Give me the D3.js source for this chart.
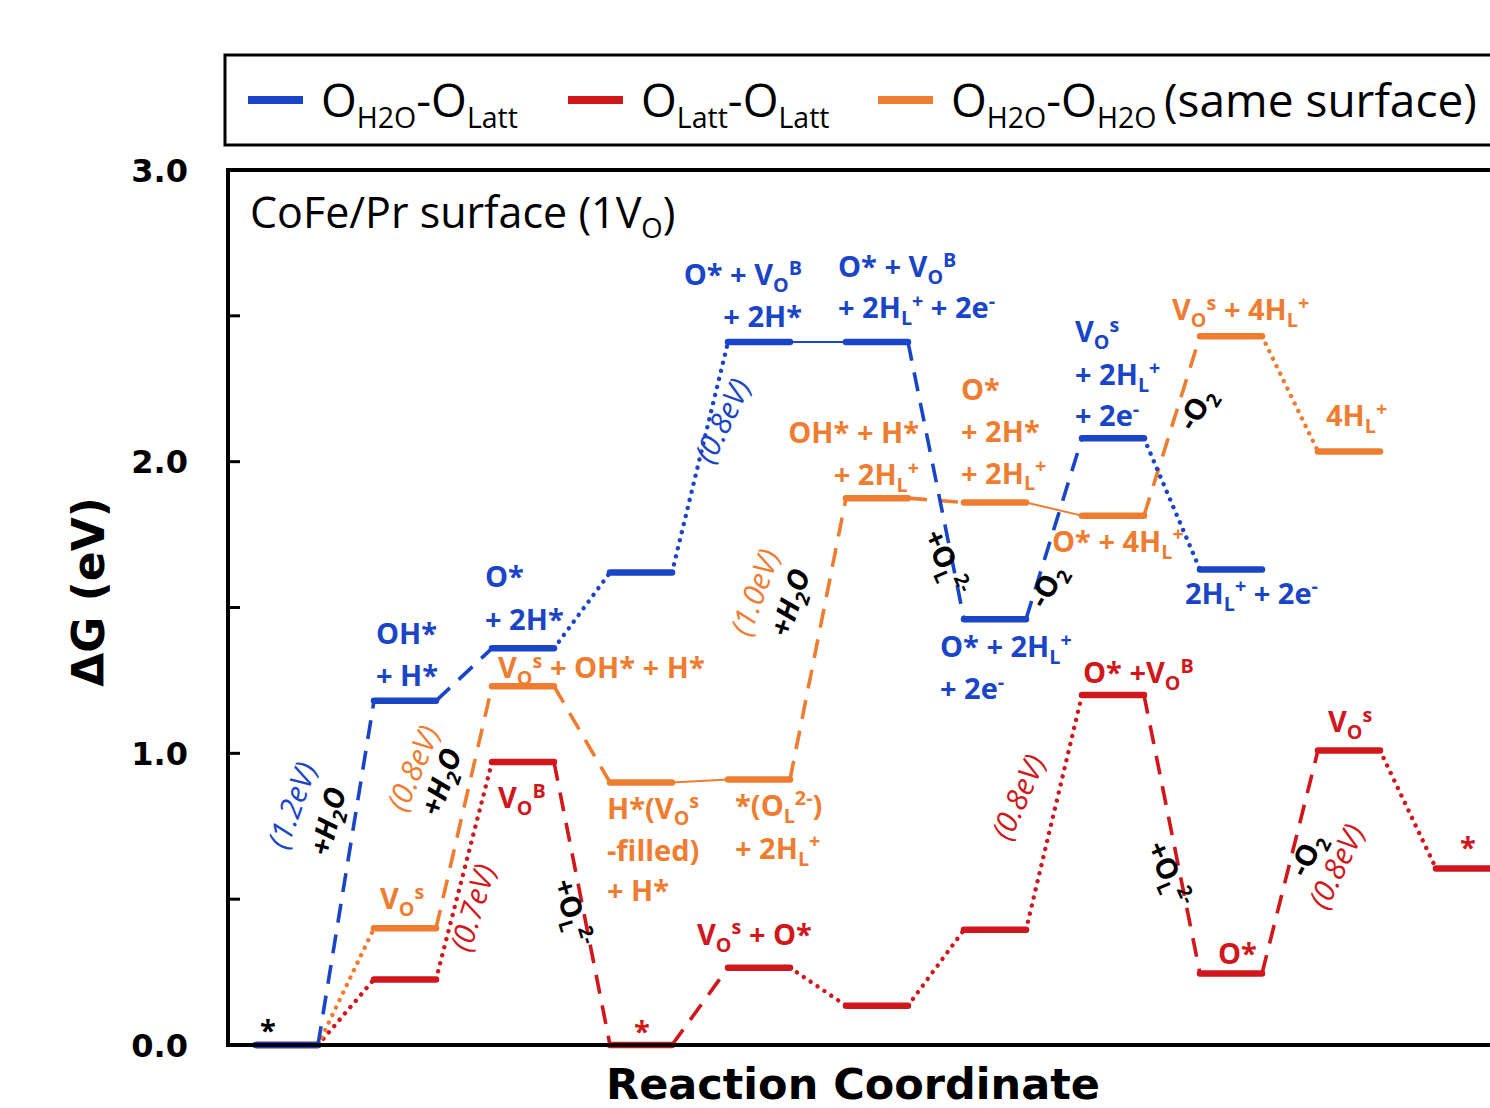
<!DOCTYPE html>
<html>
<head>
<meta charset="utf-8">
<script src="https://cdn.jsdelivr.net/npm/d3@7"></script>
<style>
  body { margin: 0; background: #fff; }
  svg { display: block; }
  text { white-space: pre; }
</style>
</head>
<body>
<div id="chart"></div>
<script>
// reaction steps (columns) and free energies in eV
const steps = [0, 1, 2, 3, 4, 5, 6, 7, 8, 9, 10];
const blueLevels = [0, 1.18, 1.36, 1.62, 2.41, 2.41, 1.46, 2.08, 1.63];
const orangeLevels = [0, 0.40, 1.23, 0.90, 0.91, 1.875, 1.86, 1.815, 2.43, 2.035];
const redLevels = [0, 0.225, 0.97, 0, 0.265, 0.135, 0.395, 1.20, 0.245, 1.01, 0.605];

// connector style between consecutive levels
const blueLinks = ['dash', 'dash', 'dot', 'dot', 'solid', 'dash', 'dash', 'dot'];
const orangeLinks = ['dot', 'dash', 'dash', 'solid', 'dash', 'dash', 'solid', 'dash', 'dot'];
const redLinks = ['dot', 'dot', 'dash', 'dash', 'dot', 'dot', 'dot', 'dash', 'dash', 'dot'];

const yTicks = [0, 0.5, 1, 1.5, 2, 2.5, 3];
const yTickLabels = ['0.0', '', '1.0', '', '2.0', '', '3.0'];

const legendNames = ['O_{H2O}-O_{Latt}', 'O_{Latt}-O_{Latt}', 'O_{H2O}-O_{H2O}\u2009(same surface)'];

const colors = { blue: '#1a45c6', red: '#d0171c', orange: '#ee7d31' };

const W = 1490, H = 1108;
const labelFont = "'Open Sans', 'Noto Sans', sans-serif";
const axisFont = "'DejaVu Sans', Verdana, sans-serif";

const svg = d3.select('#chart').append('svg')
  .attr('width', W)
  .attr('height', H);

const x = d3.scaleLinear().domain([0, 10]).range([287, 1467]);
const y = d3.scaleLinear().domain([0, 3]).range([1045, 170]);
const halfW = 31;

// simple markup: _{sub} ^{sup}
function rich(sel, str, size, k = 0.64) {
  const parts = str.split(/(_\{[^}]*\}|\^\{[^}]*\})/).filter(p => p.length);
  let shift = 0;
  parts.forEach(p => {
    let target = 0, txt = p, fs = size;
    if (p.startsWith('_{')) { target = 0.24 * size; txt = p.slice(2, -1); fs = size * k; }
    else if (p.startsWith('^{')) { target = -0.36 * size; txt = p.slice(2, -1); fs = size * k; }
    sel.append('tspan')
      .attr('dy', target - shift)
      .attr('font-size', fs)
      .text(txt);
    shift = target;
  });
}

const series = [
  { key: 'red', levels: redLevels, links: redLinks },
  { key: 'orange', levels: orangeLevels, links: orangeLinks },
  { key: 'blue', levels: blueLevels, links: blueLinks }
];
const byKey = {};
series.forEach(s => byKey[s.key] = s);

const linkStyle = {
  dash: { w: 3.6, dash: '19,12', cap: 'butt' },
  dot: { w: 4.4, dash: '0.1,8.2', cap: 'round' },
  solid: { w: 2, dash: null, cap: 'butt' }
};

// ---- levels and connectors
series.forEach(s => {
  const g = svg.append('g').attr('class', 'series-' + s.key);
  const linkData = s.links.map((style, i) => ({ style, i }));

  g.selectAll('line.link')
    .data(linkData)
    .enter()
    .append('line')
    .attr('class', 'link')
    .attr('x1', d => x(steps[d.i]) + halfW)
    .attr('y1', d => y(s.levels[d.i]))
    .attr('x2', d => x(steps[d.i + 1]) - halfW)
    .attr('y2', d => y(s.levels[d.i + 1]))
    .attr('stroke', colors[s.key])
    .attr('stroke-width', d => linkStyle[d.style].w)
    .attr('stroke-dasharray', d => linkStyle[d.style].dash)
    .attr('stroke-linecap', d => linkStyle[d.style].cap);

  g.selectAll('line.level')
    .data(s.levels)
    .enter()
    .append('line')
    .attr('class', 'level')
    .attr('x1', (d, i) => x(steps[i]) - halfW)
    .attr('x2', (d, i) => x(steps[i]) + halfW)
    .attr('y1', d => y(d))
    .attr('y2', d => y(d))
    .attr('stroke', colors[s.key])
    .attr('stroke-width', 6.5)
    .attr('stroke-linecap', 'round');
});

// ---- frame and y axis
svg.append('rect')
  .attr('x', 228).attr('y', y(3))
  .attr('width', 1400).attr('height', y(0) - y(3))
  .attr('fill', 'none')
  .attr('stroke', '#000')
  .attr('stroke-width', 4);

const yAxis = svg.append('g');
yAxis.selectAll('line')
  .data(yTicks.filter(t => t > 0 && t < 3))
  .enter()
  .append('line')
  .attr('x1', 228).attr('x2', 240)
  .attr('y1', d => y(d)).attr('y2', d => y(d))
  .attr('stroke', '#000').attr('stroke-width', 3);

yAxis.selectAll('text')
  .data(yTicks)
  .enter()
  .append('text')
  .attr('x', 188)
  .attr('y', d => y(d))
  .attr('dy', '0.36em')
  .attr('text-anchor', 'end')
  .attr('font-family', axisFont)
  .attr('font-weight', 'bold')
  .attr('font-size', 32)
  .text((d, i) => yTickLabels[i]);

svg.append('text')
  .attr('transform', 'translate(104,592) rotate(-90)')
  .attr('text-anchor', 'middle')
  .attr('font-family', axisFont)
  .attr('font-weight', 'bold')
  .attr('font-size', 44)
  .text('ΔG (eV)');

svg.append('text')
  .attr('x', 853).attr('y', 1099)
  .attr('text-anchor', 'middle')
  .attr('font-family', axisFont)
  .attr('font-weight', 'bold')
  .attr('font-size', 43)
  .text('Reaction Coordinate');

// ---- panel title
rich(svg.append('text')
  .attr('x', 250).attr('y', 228)
  .attr('font-family', labelFont)
  .attr('font-size', 43), 'CoFe/Pr surface (1V_{O})', 43);

// ---- legend
svg.append('rect')
  .attr('x', 225).attr('y', 55)
  .attr('width', 1400).attr('height', 90)
  .attr('fill', 'none')
  .attr('stroke', '#000')
  .attr('stroke-width', 3);

const legendKeys = ['blue', 'red', 'orange'];
const legendX = [248, 568, 878];
legendKeys.forEach((k, i) => {
  svg.append('line')
    .attr('x1', legendX[i]).attr('x2', legendX[i] + 55)
    .attr('y1', 100).attr('y2', 100)
    .attr('stroke', colors[k]).attr('stroke-width', 8);
  rich(svg.append('text')
    .attr('x', legendX[i] + 73).attr('y', 117)
    .attr('font-family', labelFont)
    .attr('font-size', 46), legendNames[i], 46, 0.62);
});

// ---- state labels, anchored to the left end of their level
const LS = 29;
const levelLabels = [
  { s: 'blue', i: 0, lines: ['*'], dx: 4, dy: [-4], color: '#000' },
  { s: 'blue', i: 1, lines: ['OH*', '+ H*'], dx: 2, dy: [-57, -15] },
  { s: 'blue', i: 2, lines: ['O*', '+ 2H*'], dx: -7, dy: [-61, -18] },
  { s: 'blue', i: 4, lines: ['O* + V_{O}^{B}', '+ 2H*'], dx: 74, dy: [-57, -15], anchor: 'end' },
  { s: 'blue', i: 5, lines: ['O* + V_{O}^{B}', '+ 2H_{L}^{+} + 2e^{-}'], dx: -8, dy: [-65, -24] },
  { s: 'blue', i: 6, lines: ['O* + 2H_{L}^{+}', '+ 2e^{-}'], dx: -24, dy: [38, 80] },
  { s: 'blue', i: 7, lines: ['V_{O}^{s}', '+ 2H_{L}^{+}', '+ 2e^{-}'], dx: -7, dy: [-96, -53, -12] },
  { s: 'blue', i: 8, lines: ['2H_{L}^{+} + 2e^{-}'], dx: -15, dy: [34] },

  { s: 'orange', i: 1, lines: ['V_{O}^{s}'], dx: 6, dy: [-19] },
  { s: 'orange', i: 2, lines: ['V_{O}^{s} + OH* + H*'], dx: 6, dy: [-8] },
  { s: 'orange', i: 3, lines: ['H*(V_{O}^{s}', '-filled)', '+ H*'], dx: -3, dy: [36, 78, 118] },
  { s: 'orange', i: 4, lines: ['*(O_{L}^{2-})', '+ 2H_{L}^{+}'], dx: 7, dy: [36, 79] },
  { s: 'orange', i: 5, lines: ['OH* + H*', '+ 2H_{L}^{+}'], dx: 73, dy: [-55, -13], anchor: 'end' },
  { s: 'orange', i: 6, lines: ['O*', '+ 2H*', '+ 2H_{L}^{+}'], dx: -3, dy: [-103, -61, -19] },
  { s: 'orange', i: 7, lines: ['O* + 4H_{L}^{+}'], dx: -30, dy: [36] },
  { s: 'orange', i: 8, lines: ['V_{O}^{s} + 4H_{L}^{+}'], dx: -28, dy: [-16] },
  { s: 'orange', i: 9, lines: ['4H_{L}^{+}'], dx: 8, dy: [-25] },

  { s: 'red', i: 2, lines: ['V_{O}^{B}'], dx: 6, dy: [46] },
  { s: 'red', i: 3, lines: ['*'], dx: 24, dy: [-3] },
  { s: 'red', i: 4, lines: ['V_{O}^{s} + O*'], dx: -31, dy: [-23] },
  { s: 'red', i: 7, lines: ['O* +V_{O}^{B}'], dx: 1, dy: [-12] },
  { s: 'red', i: 8, lines: ['O*'], dx: 18, dy: [-10] },
  { s: 'red', i: 9, lines: ['V_{O}^{s}'], dx: 10, dy: [-18] },
  { s: 'red', i: 10, lines: ['*'], dx: 24, dy: [-11] }
];

levelLabels.forEach(l => {
  const lv = byKey[l.s].levels[l.i];
  const x0 = x(steps[l.i]) - halfW + l.dx;
  l.lines.forEach((line, k) => {
    const t = svg.append('text')
      .attr('x', x0)
      .attr('y', y(lv) + l.dy[k])
      .attr('text-anchor', l.anchor || 'start')
      .attr('font-family', labelFont)
      .attr('font-weight', 'bold')
      .attr('font-size', LS)
      .attr('fill', l.color || colors[l.s]);
    rich(t, line, LS, 0.68);
  });
});

// ---- notes along connectors (barriers and species exchanged)
const linkNotes = [
  { s: 'blue', i: 0, text: '(1.2eV)', kind: 'ev', dx: -44, dy: -64, rot: -70 },
  { s: 'blue', i: 0, text: '+H_{2}O', kind: 'water', dx: -8, dy: -49, rot: -76 },
  { s: 'orange', i: 1, text: '(0.8eV)', kind: 'ev', dx: -41, dy: -35, rot: -67 },
  { s: 'orange', i: 1, text: '+H_{2}O', kind: 'water', dx: -13, dy: -22, rot: -71 },
  { s: 'red', i: 1, text: '(0.7eV)', kind: 'ev', dx: 19, dy: 40, rot: -73 },
  { s: 'red', i: 2, text: '+O_{L}^{2-}', kind: 'ion', dx: -19, dy: 12, rot: 73 },
  { s: 'blue', i: 3, text: '(0.8eV)', kind: 'ev', dx: 32, dy: -32, rot: -64 },
  { s: 'orange', i: 4, text: '(1.0eV)', kind: 'ev', dx: -53, dy: -43, rot: -70 },
  { s: 'orange', i: 4, text: '+H_{2}O', kind: 'water', dx: -18, dy: -33, rot: -72 },
  { s: 'blue', i: 5, text: '+O_{L}^{2-}', kind: 'ion', dx: 1, dy: 86, rot: 66 },
  { s: 'blue', i: 6, text: '-O_{2}', kind: 'ion', dx: 2, dy: 62, rot: -60 },
  { s: 'orange', i: 7, text: '-O_{2}', kind: 'ion', dx: 33, dy: -12, rot: -58 },
  { s: 'red', i: 6, text: '(0.8eV)', kind: 'ev', dx: -26, dy: -11, rot: -66 },
  { s: 'red', i: 7, text: '+O_{L}^{2-}', kind: 'ion', dx: -12, dy: 44, rot: 66 },
  { s: 'red', i: 8, text: '-O_{2}', kind: 'ion', dx: 26, dy: -3, rot: -63 },
  { s: 'red', i: 8, text: '(0.8eV)', kind: 'ev', dx: 56, dy: 9, rot: -64 }
];

linkNotes.forEach(n => {
  const s = byKey[n.s];
  const mx = (x(steps[n.i]) + halfW + x(steps[n.i + 1]) - halfW) / 2;
  const my = (y(s.levels[n.i]) + y(s.levels[n.i + 1])) / 2;
  const size = n.kind === 'ev' ? 30 : 29;
  const t = svg.append('text')
    .attr('transform', `translate(${mx + n.dx},${my + n.dy}) rotate(${n.rot})`)
    .attr('text-anchor', 'middle')
    .attr('dy', '0.35em')
    .attr('font-family', labelFont)
    .attr('font-size', size)
    .attr('font-style', n.kind === 'ion' ? 'normal' : 'italic')
    .attr('font-weight', n.kind === 'ev' ? 'normal' : 'bold')
    .attr('fill', n.kind === 'ev' ? colors[n.s] : '#000');
  rich(t, n.text, size, 0.68);
});
</script>
</body>
</html>
